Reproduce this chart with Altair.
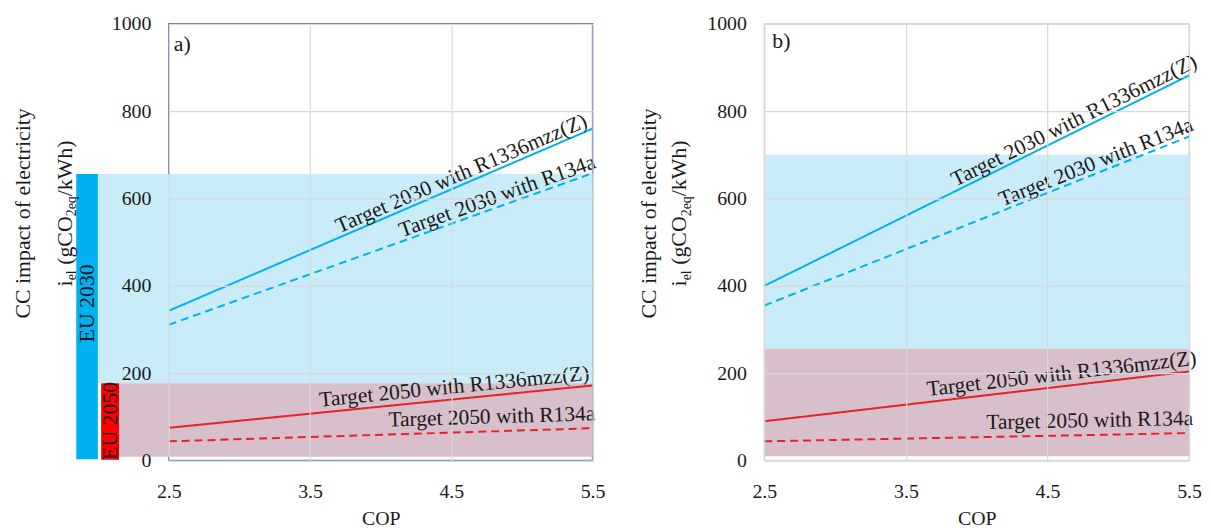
import math
import pandas as pd
import altair as alt

FONT = "Liberation Serif"
TXT = "#1a1a1a"

# ---------------- data ----------------
cop_ticks = [2.5, 3.5, 4.5, 5.5]
y_ticks = [0, 200, 400, 600, 800, 1000]
cop_ends = [2.5, 5.5]

series = ["2030 R1336mzz(Z)", "2030 R134a", "2050 R1336mzz(Z)", "2050 R134a"]
series_labels = ["Target 2030 with R1336mzz(Z)", "Target 2030 with R134a",
                 "Target 2050 with R1336mzz(Z)", "Target 2050 with R134a"]
series_color = ["#00b0f0", "#00b0f0", "#e8202a", "#e8202a"]
series_style = ["solid", "dashed", "solid", "dashed"]

# panel a) values at COP 2.5 and 5.5
a_start = [343, 311, 75, 44]
a_end = [760, 658, 172, 74]
a_label_cop = [4.60, 4.85, 4.53, 4.79]
# panel b)
b_start = [400, 355, 90, 44]
b_end = [882, 742, 204, 63]
b_label_cop = [4.72, 4.87, 4.61, 4.80]
label_gap = [4, 4, 6, 8]

a_eu2030, a_eu2050, a_floor = 656, 177, 9
b_eu2030, b_eu2050, b_floor = 701, 256, 10

eu_names = ["EU 2030", "EU 2050"]
eu_colors = ["#00b0f0", "#ff0000"]
eu_cop_lo = [1.845, 2.021]
eu_cop_hi = [1.998, 2.148]
eu_lo = [3, 2]
eu_hi = [656, 177]
eu_text_cop = [1.922, 2.085]
eu_text_value = [360, 91]

band_colors = ["#c9ecf8", "#d7bfcb"]

H = 440

x_scale = alt.Scale(domain=[2.5, 5.5], nice=False, zero=False)
y_scale = alt.Scale(domain=[0, 1000], nice=False)

x_axis = alt.Axis(values=cop_ticks, format=".1f", title="COP", labelFlush=False,
                  grid=True, gridColor="#d9d9d9", gridWidth=1.2, domain=False, ticks=False,
                  labelFont=FONT, labelFontSize=20, labelColor=TXT, labelPadding=21,
                  titleFont=FONT, titleFontSize=20, titleFontWeight="normal",
                  titleColor=TXT, titlePadding=7, zindex=1)
y_axis = alt.Axis(values=y_ticks, format="d", title=None, labelFlush=False,
                  grid=True, gridColor="#d9d9d9", gridWidth=1.2, domain=False, ticks=False,
                  labelFont=FONT, labelFontSize=20, labelColor=TXT, labelPadding=18,
                  zindex=1)


def X(f):
    return alt.X(f"{f}:Q", scale=x_scale, axis=x_axis)


def Y(f):
    return alt.Y(f"{f}:Q", scale=y_scale, axis=y_axis)


# widths of Times/Liberation Serif glyphs (em)
GW = {'i': 0.278, 'e': 0.444, 'l': 0.278, ' ': 0.25, '(': 0.333, 'g': 0.5, 'C': 0.667,
      'O': 0.722, '2': 0.5, 'q': 0.5, '/': 0.278, 'k': 0.5, 'W': 0.944, 'h': 0.5, ')': 0.333}


def tw(s, size):
    return sum(GW.get(c, 0.5) for c in s) * size


def ytitle(x1, x2, yc):
    layers = []
    one = pd.DataFrame({"t": ["CC impact of electricity"]})
    layers.append(alt.Chart(one).mark_text(angle=270, align="center", baseline="alphabetic",
                                          font=FONT, fontSize=22, color=TXT).encode(
        x=alt.value(x1), y=alt.value(yc), text="t:N"))
    # (text, size, subscript shift, extra gap after)
    segs = [("i", 22, 0, 0), ("el", 14, 5, 0.25 * 22), ("(gCO", 22, 0, 0),
            ("2eq", 14, 5, 0), ("/kWh)", 22, 0, 0)]
    total = sum(tw(s, fs) + g for s, fs, _, g in segs)
    y0 = yc + total / 2
    cum = 0
    for s, fs, d, g in segs:
        df = pd.DataFrame({"t": [s]})
        layers.append(alt.Chart(df).mark_text(angle=270, align="left", baseline="alphabetic",
                                              font=FONT, fontSize=fs, color=TXT, dy=d).encode(
            x=alt.value(x2), y=alt.value(y0 - cum), text="t:N"))
        cum += tw(s, fs) + g
    return layers


def panel(W, start, end, label_cop, eu2030, eu2050, floor, blue_lo, mauve_lo,
          tag, tag_x, tag_y, tx1, tx2, frame, eu=False):
    layers = []
    bands = pd.DataFrame({"cop": [blue_lo, mauve_lo], "cop2": [5.5, 5.5],
                          "v": [eu2050, floor], "v2": [eu2030, eu2050], "c": band_colors})
    layers.append(alt.Chart(bands).mark_rect(clip=False).encode(
        x=X("cop"), x2="cop2:Q", y=Y("v"), y2="v2:Q", color=alt.Color("c:N", scale=None)))
    if eu:
        bars = pd.DataFrame({"cop": eu_cop_lo, "cop2": eu_cop_hi, "v": eu_lo, "v2": eu_hi,
                             "c": eu_colors})
        layers.append(alt.Chart(bars).mark_rect(clip=False).encode(
            x=X("cop"), x2="cop2:Q", y=Y("v"), y2="v2:Q", color=alt.Color("c:N", scale=None)))
        eut = pd.DataFrame({"cop": eu_text_cop, "v": eu_text_value, "t": eu_names})
        layers.append(alt.Chart(eut).mark_text(angle=270, align="center", baseline="middle",
                                               font=FONT, fontSize=22, color=TXT, clip=False).encode(
            x=X("cop"), y=Y("v"), text="t:N"))
    rows = []
    for i, s in enumerate(series):
        for c, v in zip(cop_ends, [start[i], end[i]]):
            rows.append({"series": s, "cop": c, "v": v, "style": series_style[i],
                         "col": series_color[i]})
    lines = pd.DataFrame(rows)
    layers.append(alt.Chart(lines).mark_line(strokeWidth=2).encode(
        x=X("cop"), y=Y("v"), detail="series:N",
        color=alt.Color("col:N", scale=None),
        strokeDash=alt.StrokeDash("style:N", scale=alt.Scale(domain=["solid", "dashed"],
                                                             range=[[1, 0], [8, 5]]), legend=None)))
    for i, s in enumerate(series):
        c = label_cop[i]
        v = start[i] + (c - 2.5) / 3 * (end[i] - start[i])
        ang = (360 - math.degrees(math.atan2((end[i] - start[i]) * H / 1000, W))) % 360
        df = pd.DataFrame({"cop": [c], "v": [v], "t": [series_labels[i]]})
        layers.append(alt.Chart(df).mark_text(angle=ang, align="center", baseline="alphabetic",
                                              dy=-label_gap[i], font=FONT, fontSize=21.6,
                                              color=TXT).encode(
            x=X("cop"), y=Y("v"), text="t:N"))
    tagdf = pd.DataFrame({"t": [tag]})
    layers.append(alt.Chart(tagdf).mark_text(align="left", baseline="middle", font=FONT,
                                             fontSize=22, color=TXT).encode(
        x=alt.value(tag_x), y=alt.value(tag_y), text="t:N"))
    layers += ytitle(tx1, tx2, 191)
    return alt.layer(*layers).properties(width=W, height=H,
                                         view=alt.ViewBackground(stroke=frame, strokeWidth=1.5))


left = panel(427, a_start, a_end, a_label_cop, a_eu2030, a_eu2050, a_floor, 1.998, 2.148,
             "a)", 5, 20, -140, -98, "#4f6fb3", eu=True)
right = panel(428, b_start, b_end, b_label_cop, b_eu2030, b_eu2050, b_floor, 2.5, 2.5,
              "b)", 8, 17, -109, -79, "#d9d9d9")

chart = alt.hconcat(left, right, spacing=173, bounds="flush").properties(
    padding={"left": 3, "top": 3, "right": 0, "bottom": 0},
    background="white")

chart.save("out.html", embed_options={"renderer": "svg", "actions": False})
